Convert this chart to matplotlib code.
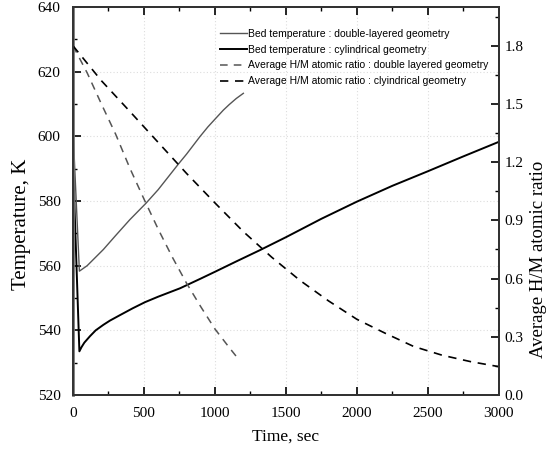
import matplotlib
matplotlib.use("Agg")
import matplotlib.pyplot as plt
from matplotlib.ticker import MultipleLocator, FormatStrFormatter

# Bed temperature, double-layered geometry
t_temp_dbl = [0, 45, 100, 214, 300, 400, 514, 600, 742, 800, 894, 950, 1000, 1059, 1100, 1150, 1200]
temp_dbl = [602, 558.3, 560.0, 565.0, 569.3, 574.2, 579.3, 583.5, 591.4, 594.5, 599.9, 602.9, 605.3, 608.1, 609.8, 611.7, 613.3]

# Bed temperature, cylindrical geometry
t_temp_cyl = [0, 45, 60, 80, 120, 160, 214, 260, 331, 420, 507, 600, 754, 900, 1000,
              1150, 1317, 1500, 1750, 2000, 2250, 2500, 2750, 3000]
temp_cyl = [592, 533.5, 534.8, 536.2, 538.2, 540.0, 541.7, 543.0, 544.7, 546.8, 548.7, 550.4, 553.0,
            556.0, 558.1, 561.3, 564.8, 568.8, 574.5, 579.8, 584.7, 589.2, 593.8, 598.3]

# Average H/M atomic ratio, double layered geometry
t_hm_dbl = [0, 100, 200, 300, 400, 500, 600, 700, 800, 900, 1000, 1100, 1160]
hm_dbl = [1.80, 1.66, 1.50, 1.345, 1.17, 1.01, 0.855, 0.71, 0.576, 0.455, 0.34, 0.245, 0.19]

# Average H/M atomic ratio, cylindrical geometry
t_hm_cyl = [0, 100, 200, 400, 600, 800, 1000, 1200, 1400, 1600, 1800, 2000, 2200, 2400, 2600, 2800, 3000]
hm_cyl = [1.80, 1.71, 1.62, 1.462, 1.302, 1.142, 0.99, 0.842, 0.71, 0.59, 0.485, 0.39, 0.318, 0.25,
          0.205, 0.172, 0.146]

labels = [
    "Bed temperature : double-layered geometry",
    "Bed temperature : cylindrical geometry",
    "Average H/M atomic ratio : double layered geometry",
    "Average H/M atomic ratio : clyindrical geometry",
]

serif = "Liberation Serif"
sans = "Liberation Sans"

fig = plt.figure(figsize=(5.46, 4.54), dpi=100)
ax = fig.add_axes([0.1337, 0.130, 0.780, 0.8546])
ax2 = ax.twinx()

gray = "#555555"
l1, = ax.plot(t_temp_dbl, temp_dbl, color=gray, lw=1.0)
l2, = ax.plot(t_temp_cyl, temp_cyl, color="black", lw=1.4)
l3, = ax2.plot(t_hm_dbl, hm_dbl, color=gray, lw=1.1, dashes=(5, 4))
l4, = ax2.plot(t_hm_cyl, hm_cyl, color="black", lw=1.2, dashes=(5, 4))

ax.set_xlim(0, 3000)
ax.set_ylim(520, 640)
ax2.set_ylim(0, 2.0)

ax.xaxis.set_major_locator(MultipleLocator(500))
ax.xaxis.set_minor_locator(MultipleLocator(250))
ax.yaxis.set_major_locator(MultipleLocator(20))
ax.yaxis.set_minor_locator(MultipleLocator(10))
ax2.yaxis.set_major_locator(MultipleLocator(0.3))
ax2.yaxis.set_minor_locator(MultipleLocator(0.15))
ax2.yaxis.set_major_formatter(FormatStrFormatter("%.1f"))

ax.grid(True, which="major", color="#dddddd", linestyle=(0, (1, 2)), lw=0.8)
ax.set_axisbelow(True)

ax.tick_params(which="both", direction="in", top=True, right=False, labelsize=11)
ax.tick_params(axis="x", which="major", pad=9)
ax.tick_params(axis="y", which="major", pad=9)
ax.tick_params(which="major", length=6, width=1.2)
ax.tick_params(which="minor", length=3, width=1.0)
ax2.tick_params(which="both", direction="in", labelsize=11)
ax2.tick_params(which="major", length=6, width=1.2, pad=4)
ax2.tick_params(which="minor", length=3, width=1.0)
for a in (ax, ax2):
    for lab in a.get_xticklabels() + a.get_yticklabels():
        lab.set_fontfamily(serif)
    for s in a.spines.values():
        s.set_linewidth(1.4)
        s.set_color("#333333")
ax.spines["left"].set_color("#777777")
ax.spines["left"].set_linewidth(2.0)

ax.set_xlabel("Time, sec", fontfamily=serif, fontsize=12.5, labelpad=6)
ax.set_ylabel("Temperature, K", fontfamily=serif, fontsize=15)
ax.yaxis.set_label_coords(-0.098, 0.44)
ax2.set_ylabel("Average H/M atomic ratio", fontfamily=serif, fontsize=13.5)
ax2.yaxis.set_label_coords(1.072, 0.35)

leg = ax.legend([l1, l2, l3, l4], labels, loc="upper right", bbox_to_anchor=(0.998, 0.968),
                frameon=False, prop={"family": sans, "size": 7.5},
                handlelength=2.6, handletextpad=0.15, labelspacing=0.56)

fig.savefig("out.png", dpi=100)
